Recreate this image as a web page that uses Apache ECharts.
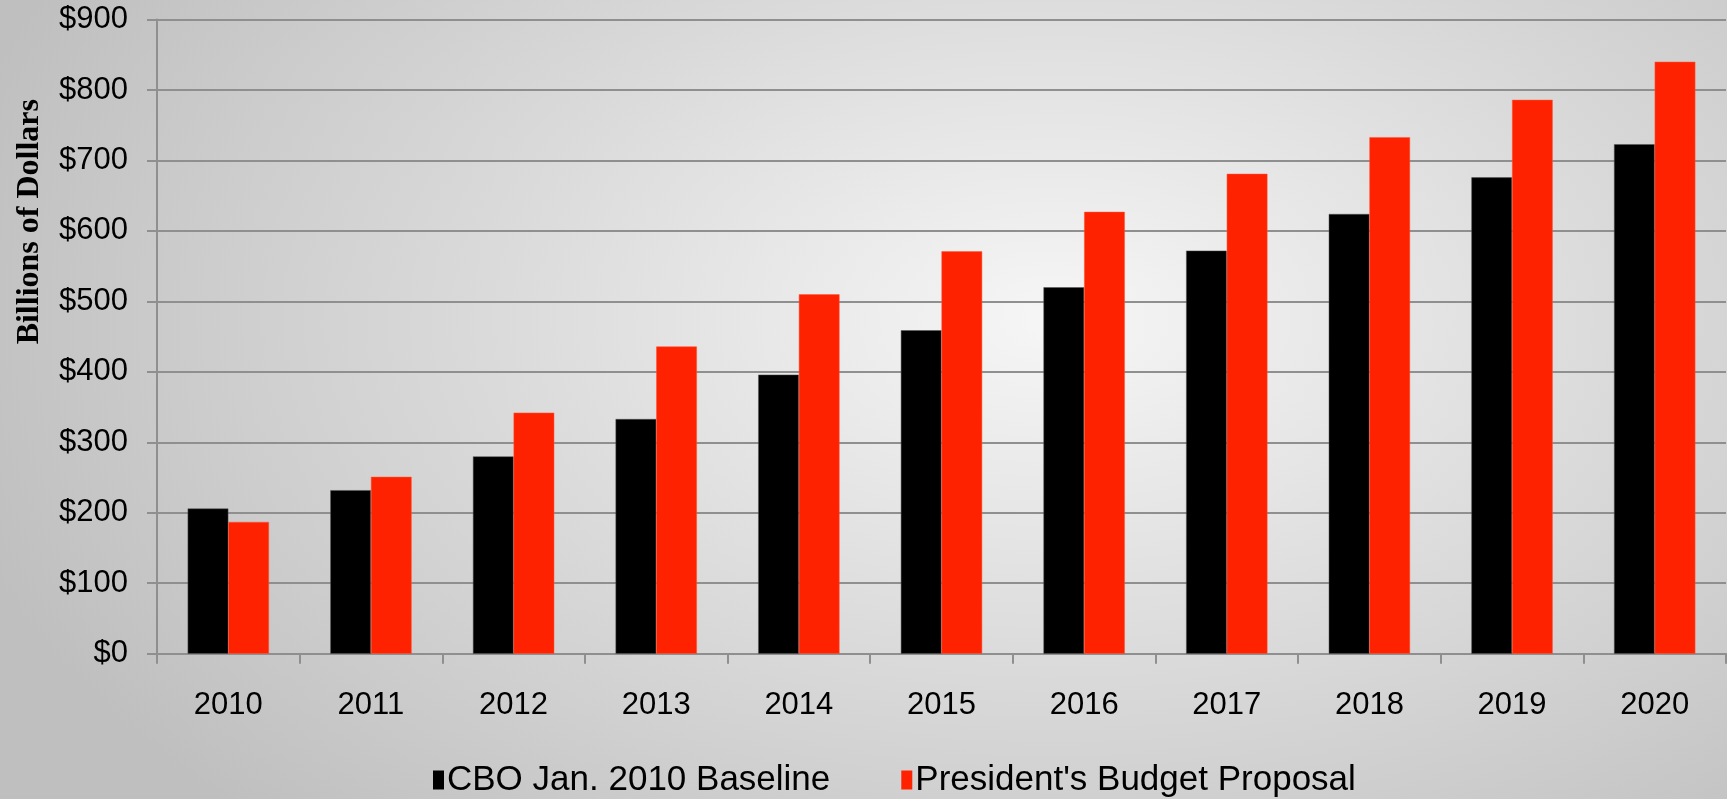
<!DOCTYPE html>
<html>
<head>
<meta charset="utf-8">
<script src="https://cdn.jsdelivr.net/npm/echarts@6/dist/echarts.min.js"></script>
<style>
html,body{margin:0;padding:0;width:1727px;height:799px;overflow:hidden;}
#chart{width:1727px;height:799px;background:radial-gradient(ellipse 66% 88% at 61% 40%, #f6f6f6 0%, #dadada 50%, #bfbfbf 100%);}
</style>
</head>
<body>
<div id="chart"></div>
<script>
const categories = ['2010','2011','2012','2013','2014','2015','2016','2017','2018','2019','2020'];
const cboBaseline = [206, 232, 280, 333, 396, 459, 520, 572, 624, 676, 723];
const presidentsBudget = [187, 251, 342, 436, 510, 571, 627, 681, 733, 786, 840];
const seriesNames = ['CBO Jan. 2010 Baseline', "President's Budget Proposal"];
const yTitle = 'Billions of Dollars';

const chart = echarts.init(document.getElementById('chart'), null, {renderer:'canvas'});
const gridColor = '#8f8f8f';
const sans = '"Liberation Sans", Arial, sans-serif';
chart.setOption({
  backgroundColor: 'transparent',
  animation: false,
  grid: {left:157, right:1, top:19.5, bottom:145.3, containLabel:false},
  legend: {
    data: seriesNames,
    top: 761,
    left: 433,
    padding: 0,
    itemWidth: 11,
    itemHeight: 19,
    itemGap: 71,
    icon: 'rect',
    itemStyle: {borderWidth: 0},
    textStyle: {fontFamily: sans, fontSize:35, lineHeight:38, color:'#000', padding:[0,0,0,-2]}
  },
  xAxis: {
    type: 'category',
    data: categories,
    axisLine: {lineStyle:{color:gridColor, width:2}},
    axisTick: {show:true, length:10, lineStyle:{color:gridColor, width:2}},
    axisLabel: {fontFamily: sans, fontSize:31, color:'#000', margin:36}
  },
  yAxis: {
    type: 'value',
    min: 0, max: 900, interval: 100,
    axisLine: {show:true, lineStyle:{color:gridColor, width:2}},
    axisTick: {show:true, length:10, lineStyle:{color:gridColor, width:2}},
    splitLine: {show:true, lineStyle:{color:gridColor, width:2}},
    axisLabel: {fontFamily: sans, fontSize:31, color:'#000', margin:29, formatter: v => '$' + v}
  },
  graphic: [{
    type:'text', left: 14, top: 99,
    rotation: Math.PI/2,
    style: {text: yTitle, font: 'bold 32px "Liberation Serif", "Times New Roman", serif', fill:'#000'}
  }],
  series: [
    {name: seriesNames[0], type:'bar', data: cboBaseline, barGap:'0%', barCategoryGap:'43%', itemStyle:{color:'#000000', borderColor:'#555', borderWidth:0.5}},
    {name: seriesNames[1], type:'bar', data: presidentsBudget, barGap:'0%', barCategoryGap:'43%', itemStyle:{color:'#ff2200', borderColor:'#ff5533', borderWidth:0.5}}
  ]
});
</script>
</body>
</html>
